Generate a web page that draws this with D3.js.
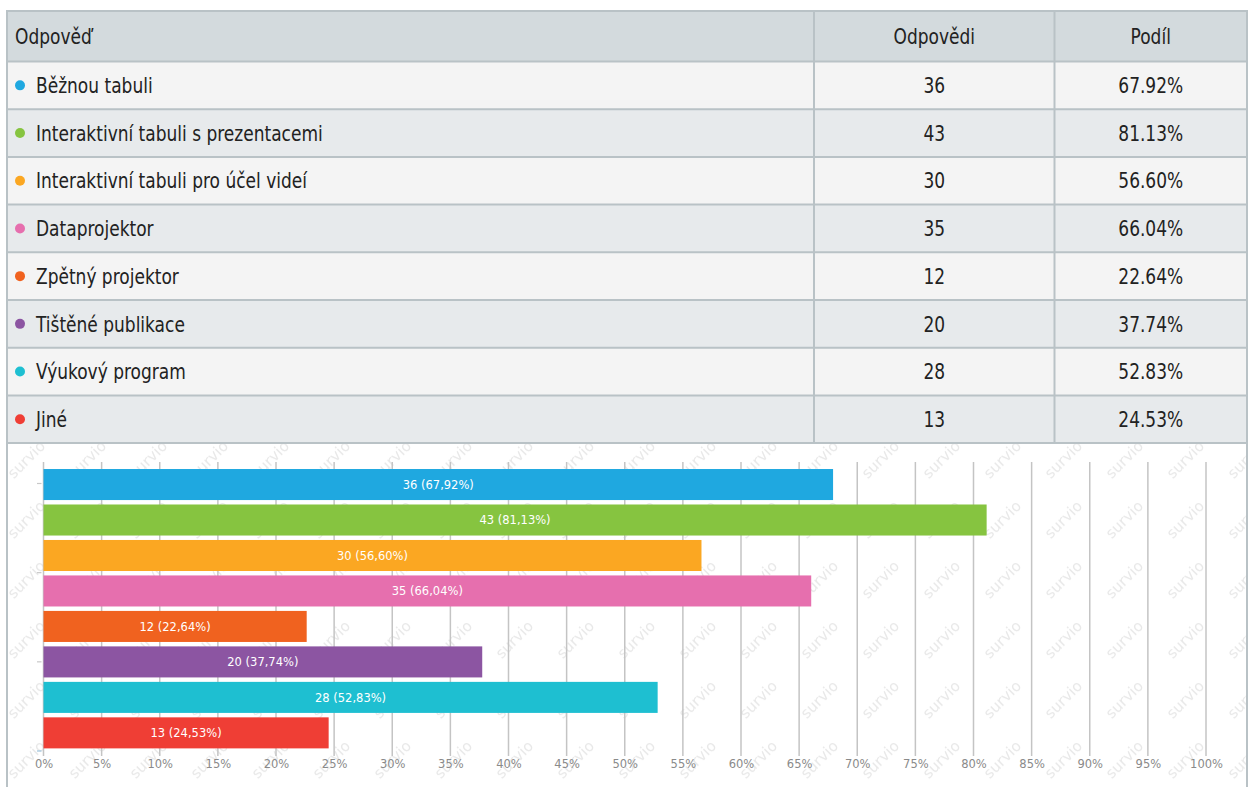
<!DOCTYPE html>
<html>
<head>
<meta charset="utf-8">
<script src="https://cdn.jsdelivr.net/npm/d3@7/dist/d3.min.js"></script>
<style>
  html, body { margin: 0; padding: 0; background: #ffffff; }
  svg { display: block; }
</style>
</head>
<body>
<svg id="chart" width="1250" height="787"></svg>
<script>
// Survey answers: which teaching aids are used
const answers = [
  "Běžnou tabuli",
  "Interaktivní tabuli s prezentacemi",
  "Interaktivní tabuli pro účel videí",
  "Dataprojektor",
  "Zpětný projektor",
  "Tištěné publikace",
  "Výukový program",
  "Jiné"
];
const counts = [36, 43, 30, 35, 12, 20, 28, 13];
const shares = [67.92, 81.13, 56.60, 66.04, 22.64, 37.74, 52.83, 24.53];
const colors = ["#1fa8e0", "#86c440", "#fba722", "#e66fae", "#f0621f", "#8c55a2", "#1ebfd1", "#ef3e35"];
const headers = ["Odpověď", "Odpovědi", "Podíl"];
const xTicks = [0, 5, 10, 15, 20, 25, 30, 35, 40, 45, 50, 55, 60, 65, 70, 75, 80, 85, 90, 95, 100];

const svg = d3.select("#chart");
const tableFont = "'DejaVu Sans Condensed', 'DejaVu Sans', sans-serif";
const chartFont = "'DejaVu Sans', 'Verdana', sans-serif";
const borderColor = "#b9c2c6";
const squeeze = 0.88;   // narrow the table lettering horizontally

// ---------- Table ----------
const tbl = { left: 7, right: 1247, top: 11, headerH: 50.5, rowH: 47.7 };
const colEdges = [tbl.left, 814, 1054.5, tbl.right];

const rowY = d3.scaleLinear()
  .domain([0, answers.length])
  .range([tbl.top + tbl.headerH, tbl.top + tbl.headerH + answers.length * tbl.rowH]);

const table = svg.append("g").attr("class", "table");

// place a narrowed table label at (x, y)
function cellText(sel, xFn, yFn, anchor) {
  return sel
    .attr("transform", (d, i) => `translate(${xFn(d, i)},${yFn(d, i)}) scale(${squeeze},1)`)
    .attr("dy", "0.36em")
    .attr("text-anchor", anchor)
    .attr("font-family", tableFont)
    .attr("font-size", 21.5)
    .attr("fill", "#222");
}

// header background
table.append("rect")
  .attr("x", tbl.left).attr("y", tbl.top)
  .attr("width", tbl.right - tbl.left).attr("height", tbl.headerH)
  .attr("fill", "#d3dadd");

// body rows
const rows = table.selectAll("g.row")
  .data(answers.map((a, i) => ({ answer: a, count: counts[i], share: shares[i], color: colors[i], i })))
  .join("g").attr("class", "row");

rows.append("rect")
  .attr("x", tbl.left)
  .attr("y", d => rowY(d.i))
  .attr("width", tbl.right - tbl.left)
  .attr("height", tbl.rowH)
  .attr("fill", d => d.i % 2 === 0 ? "#f4f4f4" : "#e7eaec");

// horizontal separators
table.selectAll("line.hsep")
  .data(d3.range(answers.length + 1))
  .join("line").attr("class", "hsep")
  .attr("x1", tbl.left).attr("x2", tbl.right)
  .attr("y1", d => rowY(d)).attr("y2", d => rowY(d))
  .attr("stroke", borderColor).attr("stroke-width", 2);

// top border
table.append("line")
  .attr("x1", tbl.left).attr("x2", tbl.right)
  .attr("y1", tbl.top).attr("y2", tbl.top)
  .attr("stroke", borderColor).attr("stroke-width", 2);

// column separators
table.selectAll("line.vsep")
  .data(colEdges.slice(1, 3))
  .join("line").attr("class", "vsep")
  .attr("x1", d => d).attr("x2", d => d)
  .attr("y1", tbl.top).attr("y2", rowY(answers.length))
  .attr("stroke", borderColor).attr("stroke-width", 2);

// header text
cellText(
  table.selectAll("text.head").data(headers).join("text").attr("class", "head").text(d => d),
  (d, i) => i === 0 ? 15 : (colEdges[i] + colEdges[i + 1]) / 2,
  () => tbl.top + tbl.headerH / 2,
  null
).attr("text-anchor", (d, i) => i === 0 ? "start" : "middle");

// colour dots
rows.append("circle")
  .attr("cx", 20)
  .attr("cy", d => rowY(d.i) + tbl.rowH / 2)
  .attr("r", 5)
  .attr("fill", d => d.color);

const midRow = d => rowY(d.i) + tbl.rowH / 2;

cellText(rows.append("text").text(d => d.answer), () => 36, midRow, "start");
cellText(rows.append("text").text(d => d.count), () => (colEdges[1] + colEdges[2]) / 2, midRow, "middle");
cellText(rows.append("text").text(d => d.share.toFixed(2) + "%"), () => (colEdges[2] + colEdges[3]) / 2, midRow, "middle");

// ---------- Bar chart ----------
const chartTop = rowY(answers.length);

// watermark tiles behind the chart
const defs = svg.append("defs");
const pat = defs.append("pattern")
  .attr("id", "wm").attr("patternUnits", "userSpaceOnUse")
  .attr("x", 0).attr("y", chartTop - 20)
  .attr("width", 61).attr("height", 120);
[[30, 40], [30, 100]].forEach(([cx, cy]) => {
  pat.append("text")
    .attr("transform", `translate(${cx},${cy}) rotate(-45)`)
    .attr("text-anchor", "middle")
    .attr("font-family", chartFont).attr("font-size", 15)
    .attr("fill", "#e8e8e8")
    .text("survio");
});
svg.append("rect")
  .attr("x", tbl.left + 1).attr("y", chartTop + 1)
  .attr("width", tbl.right - tbl.left - 2).attr("height", 787 - chartTop)
  .attr("fill", "url(#wm)");

// container side borders
[tbl.left, tbl.right].forEach(x => {
  svg.append("line")
    .attr("x1", x).attr("x2", x)
    .attr("y1", tbl.top - 1).attr("y2", 787)
    .attr("stroke", borderColor).attr("stroke-width", 2);
});

const x = d3.scaleLinear().domain([0, 100]).range([43.5, 1206]);
const y = d3.scaleBand()
  .domain(answers)
  .range([466.8, 750.6])
  .paddingInner(0.125)
  .paddingOuter(0.0625);

const gridTop = 462, gridBottom = 756;

// vertical gridlines
svg.append("g")
  .selectAll("line")
  .data(xTicks)
  .join("line")
  .attr("x1", d => x(d)).attr("x2", d => x(d))
  .attr("y1", gridTop).attr("y2", gridBottom)
  .attr("stroke", "#c4c4c4").attr("stroke-width", 1.5);

// x axis labels
const xAxis = d3.axisBottom(x)
  .tickValues(xTicks)
  .tickFormat(d => d + "%")
  .tickSize(0)
  .tickPadding(0);
const gx = svg.append("g")
  .attr("transform", `translate(0,${760})`)
  .call(xAxis);
gx.select(".domain").remove();
gx.selectAll("text")
  .attr("font-family", chartFont)
  .attr("font-size", 11.5)
  .attr("fill", "#8a8a8a");

// small left-hand ticks
const yTickPos = d3.scaleLinear().domain([0, 3]).range([483.5, 751]);
svg.append("g")
  .selectAll("line")
  .data([0, 1, 2, 3])
  .join("line")
  .attr("x1", 37).attr("x2", 41.5)
  .attr("y1", d => yTickPos(d)).attr("y2", d => yTickPos(d))
  .attr("stroke", (d, i) => i === 3 ? "#9cc3dc" : "#c8c8c8")
  .attr("stroke-width", 1.2);

// bars
const bars = svg.append("g").selectAll("g")
  .data(answers.map((a, i) => ({ answer: a, count: counts[i], share: shares[i], color: colors[i] })))
  .join("g");

bars.append("rect")
  .attr("x", x(0))
  .attr("y", d => y(d.answer))
  .attr("width", d => x(d.share) - x(0))
  .attr("height", y.bandwidth())
  .attr("fill", d => d.color);

bars.append("text")
  .attr("x", d => (x(0) + x(d.share)) / 2)
  .attr("y", d => y(d.answer) + y.bandwidth() / 2)
  .attr("dy", "0.36em")
  .attr("text-anchor", "middle")
  .attr("font-family", chartFont)
  .attr("font-size", 11.5)
  .attr("fill", "#ffffff")
  .text(d => `${d.count} (${d.share.toFixed(2).replace(".", ",")}%)`);
</script>
</body>
</html>
